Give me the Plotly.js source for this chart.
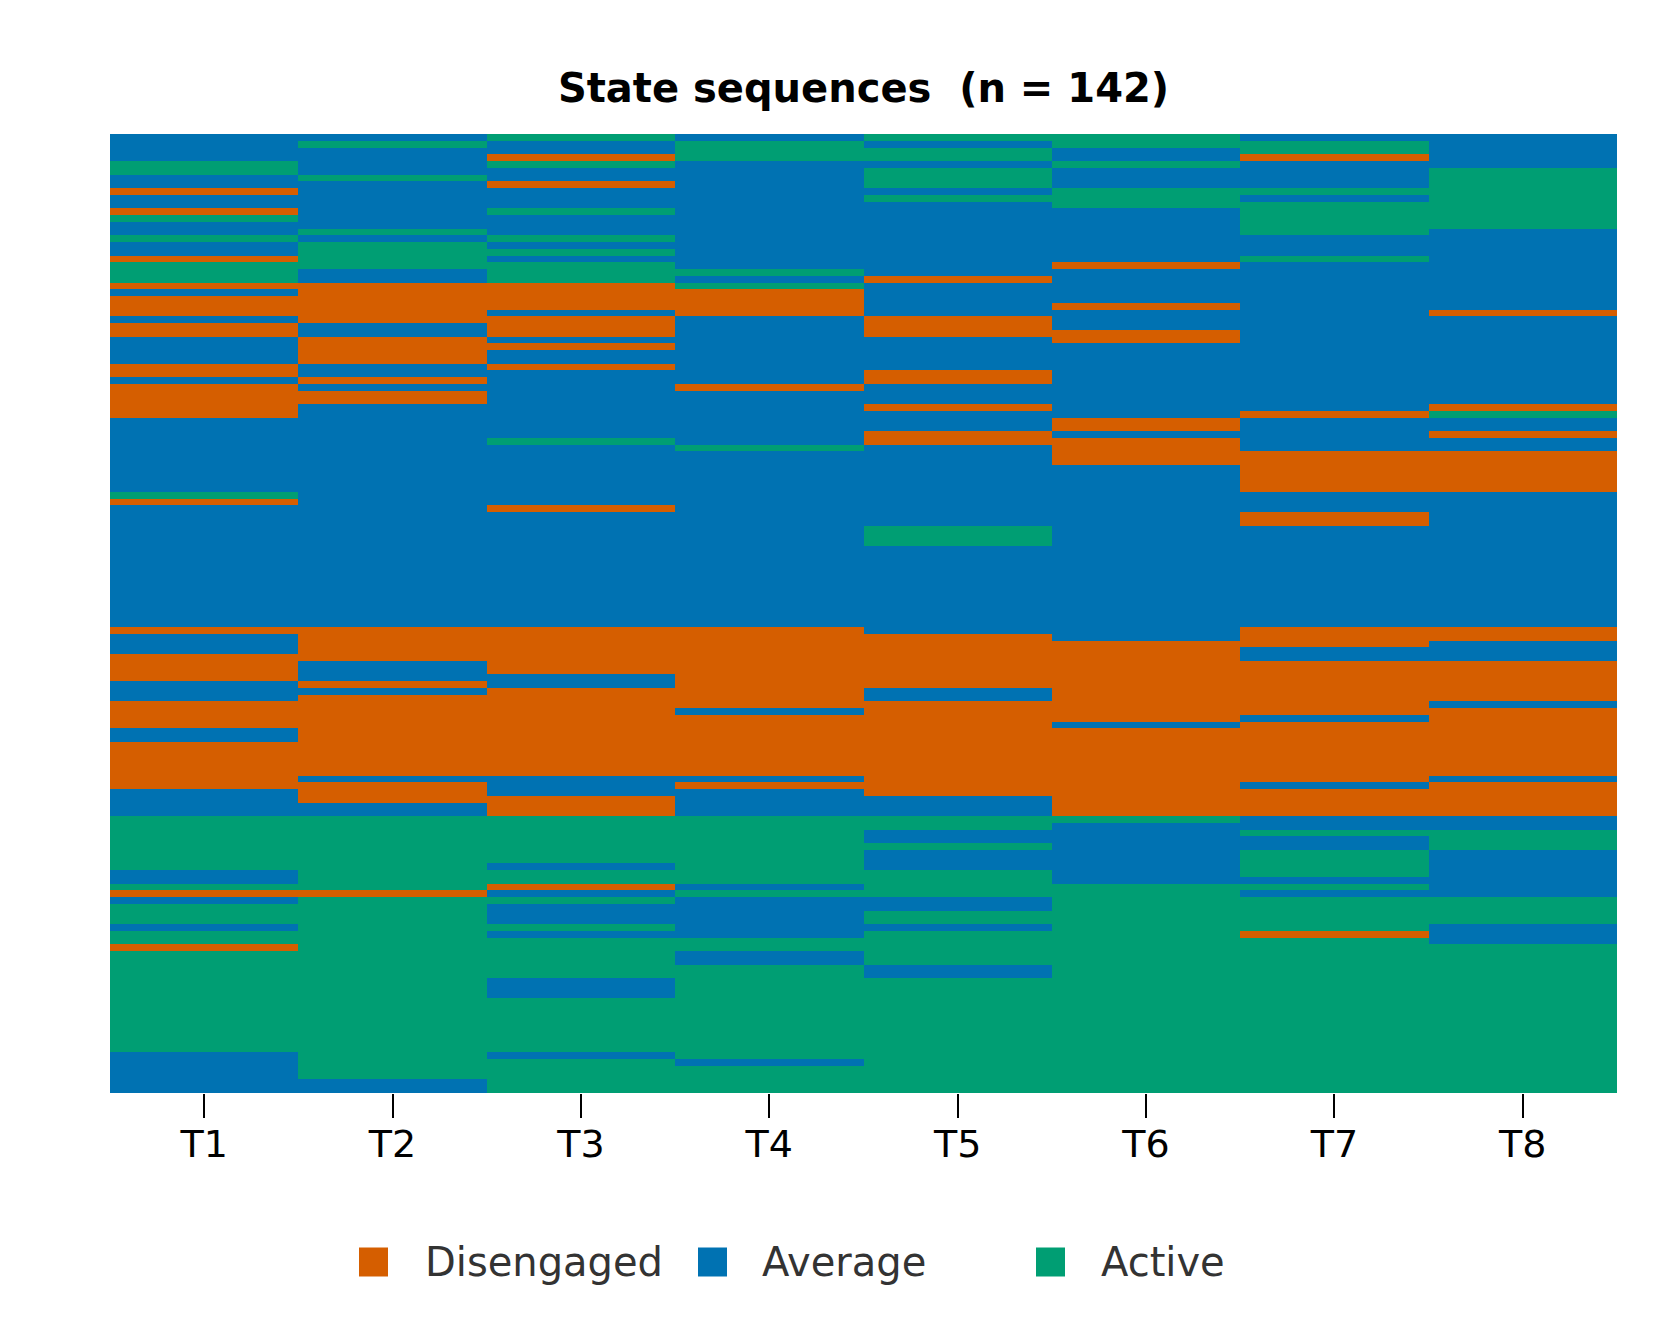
<!DOCTYPE html>
<html>
<head>
<meta charset="utf-8">
<script src="https://cdn.plot.ly/plotly-3.0.1.min.js"></script>
<style>
  html, body { margin: 0; padding: 0; background: #ffffff; }
  #chart { width: 1680px; height: 1320px; }
</style>
</head>
<body>
<div id="chart"></div>
<script>
// ---- data: states, colours, time points ----
const stateLabels = ['Disengaged', 'Average', 'Active'];
const stateCodes  = ['D', 'A', 'G'];
const stateColors = ['#D55E00', '#0072B2', '#009E73'];
const timeLabels  = ['T1', 'T2', 'T3', 'T4', 'T5', 'T6', 'T7', 'T8'];
const nSeq = 142;

// state of each of the 142 sequences (top to bottom) at each time point, as runs [state, count]
const t1 = [['A',4],['G',2],['A',2],['D',1],['A',2],['D',1],['G',1],['A',2],['G',1],['A',2],['D',1],['G',3],['D',1],['A',1],['D',3],['A',1],['D',2],['A',4],['D',2],['A',1],['D',5],['A',11],['G',1],['D',1],['A',18],['D',1],['A',3],['D',4],['A',3],['D',4],['A',2],['D',7],['A',4],['G',8],['A',2],['G',1],['D',1],['A',1],['G',3],['A',1],['G',2],['D',1],['G',15],['A',6]];
const t2 = [['A',1],['G',1],['A',4],['G',1],['A',7],['G',1],['A',1],['G',4],['A',2],['D',6],['A',2],['D',4],['A',2],['D',1],['A',1],['D',2],['A',33],['D',5],['A',3],['D',1],['A',1],['D',12],['A',1],['D',3],['A',2],['G',11],['D',1],['G',27],['A',2]];
const t3 = [['G',1],['A',2],['D',1],['G',1],['A',2],['D',1],['A',3],['G',1],['A',3],['G',1],['A',1],['G',1],['A',1],['G',3],['D',4],['A',1],['D',3],['A',1],['D',1],['A',2],['D',1],['A',10],['G',1],['A',9],['D',1],['A',17],['D',7],['A',2],['D',13],['A',3],['D',3],['G',7],['A',1],['G',2],['D',1],['A',1],['G',1],['A',3],['G',1],['A',1],['G',6],['A',3],['G',8],['A',1],['G',5]];
const t4 = [['A',1],['G',3],['A',16],['G',1],['A',1],['G',1],['D',4],['A',10],['D',1],['A',8],['G',1],['A',26],['D',12],['A',1],['D',9],['A',1],['D',1],['A',4],['G',10],['A',1],['G',1],['A',6],['G',2],['A',2],['G',14],['A',1],['G',4]];
const t5 = [['G',1],['A',1],['G',2],['A',1],['G',3],['A',1],['G',1],['A',11],['D',1],['A',5],['D',3],['A',5],['D',2],['A',3],['D',1],['A',3],['D',2],['A',12],['G',3],['A',13],['D',8],['A',2],['D',14],['A',3],['G',2],['A',2],['G',1],['A',3],['G',4],['A',2],['G',2],['A',1],['G',5],['A',2],['G',17]];
const t6 = [['G',2],['A',2],['G',1],['A',3],['G',3],['A',8],['D',1],['A',5],['D',1],['A',3],['D',2],['A',11],['D',2],['A',1],['D',4],['A',26],['D',12],['A',1],['D',13],['G',1],['A',9],['G',31]];
const t7 = [['A',1],['G',2],['D',1],['A',4],['G',1],['A',1],['G',5],['A',3],['G',1],['A',22],['D',1],['A',5],['D',6],['A',3],['D',2],['A',15],['D',3],['A',2],['D',8],['A',1],['D',9],['A',1],['D',4],['A',2],['G',1],['A',2],['G',4],['A',1],['G',1],['A',1],['G',5],['D',1],['G',23]];
const t8 = [['A',5],['G',9],['A',12],['D',1],['A',13],['D',1],['G',1],['A',2],['D',1],['A',2],['D',6],['A',20],['D',2],['A',3],['D',6],['A',1],['D',10],['A',1],['D',5],['A',2],['G',3],['A',7],['G',4],['A',3],['G',22]];
const columns = [t1, t2, t3, t4, t5, t6, t7, t8];

// ---- build the matrix for the heatmap ----
function expand(runs) {
  const out = [];
  runs.forEach(([s, n]) => { for (let i = 0; i < n; i++) out.push(stateCodes.indexOf(s)); });
  return out;
}
const expanded = columns.map(expand);
const rowIndex = Array.from({length: nSeq}, (_, i) => i);
const z = rowIndex.map(r => expanded.map(col => col[r]));

const cs = [];
stateColors.forEach((c, i) => {
  cs.push([i / stateColors.length, c]);
  cs.push([(i + 1) / stateColors.length, c]);
});

const heat = {
  type: 'heatmap',
  x: timeLabels,
  y: rowIndex,
  z: z,
  zmin: -0.5, zmax: stateColors.length - 0.5,
  colorscale: cs,
  showscale: false,
  xgap: 0, ygap: 0,
  hoverinfo: 'skip'
};

// ---- layout geometry (pixels) ----
const W = 1680, H = 1320;
const L = 110, R = 1617, T = 134, B = 1093;
const px2x = p => (p - L) / (R - L);
const py2y = p => (B - p) / (B - T);

const legendSquareLeft = [359, 698, 1036];
const legendTextLeft   = [423, 760, 1099];
const legendY = 1262, sq = 29;

const shapes = stateLabels.map((lab, i) => ({
  type: 'rect', xref: 'paper', yref: 'paper',
  x0: px2x(legendSquareLeft[i]), x1: px2x(legendSquareLeft[i] + sq),
  y0: py2y(legendY + sq / 2), y1: py2y(legendY - sq / 2),
  fillcolor: stateColors[i], line: {width: 0}
}));
const annotations = stateLabels.map((lab, i) => ({
  text: lab, xref: 'paper', yref: 'paper',
  x: px2x(legendTextLeft[i]), y: py2y(legendY),
  xanchor: 'left', yanchor: 'middle', showarrow: false,
  font: {family: 'DejaVu Sans', size: 40, color: '#333333'}
}));

const layout = {
  width: W, height: H,
  margin: {l: L, r: W - R, t: T, b: H - B, pad: 0},
  paper_bgcolor: '#ffffff', plot_bgcolor: '#ffffff',
  font: {family: 'DejaVu Sans', color: '#000000'},
  title: {
    text: '<b>State sequences\u00a0 (n = 142)</b>',
    font: {family: 'DejaVu Sans', size: 40, color: '#000000'},
    x: 0.5, xref: 'paper', xanchor: 'center',
    y: 1 - 88 / H, yref: 'container', yanchor: 'middle'
  },
  xaxis: {
    type: 'category',
    range: [-0.5, timeLabels.length - 0.5],
    ticks: 'outside', ticklen: 24, tickwidth: 2, tickcolor: '#000000',
    ticklabelstandoff: -7,
    tickfont: {family: 'DejaVu Sans', size: 38, color: '#000000'},
    showgrid: false, zeroline: false, showline: false,
    fixedrange: true
  },
  yaxis: {
    range: [nSeq - 0.5, -0.5],
    showticklabels: false, ticks: '', showgrid: false, zeroline: false, showline: false,
    fixedrange: true
  },
  shapes: shapes,
  annotations: annotations,
  showlegend: false
};

Plotly.newPlot('chart', [heat], layout, {staticPlot: true, displayModeBar: false});
</script>
</body>
</html>
